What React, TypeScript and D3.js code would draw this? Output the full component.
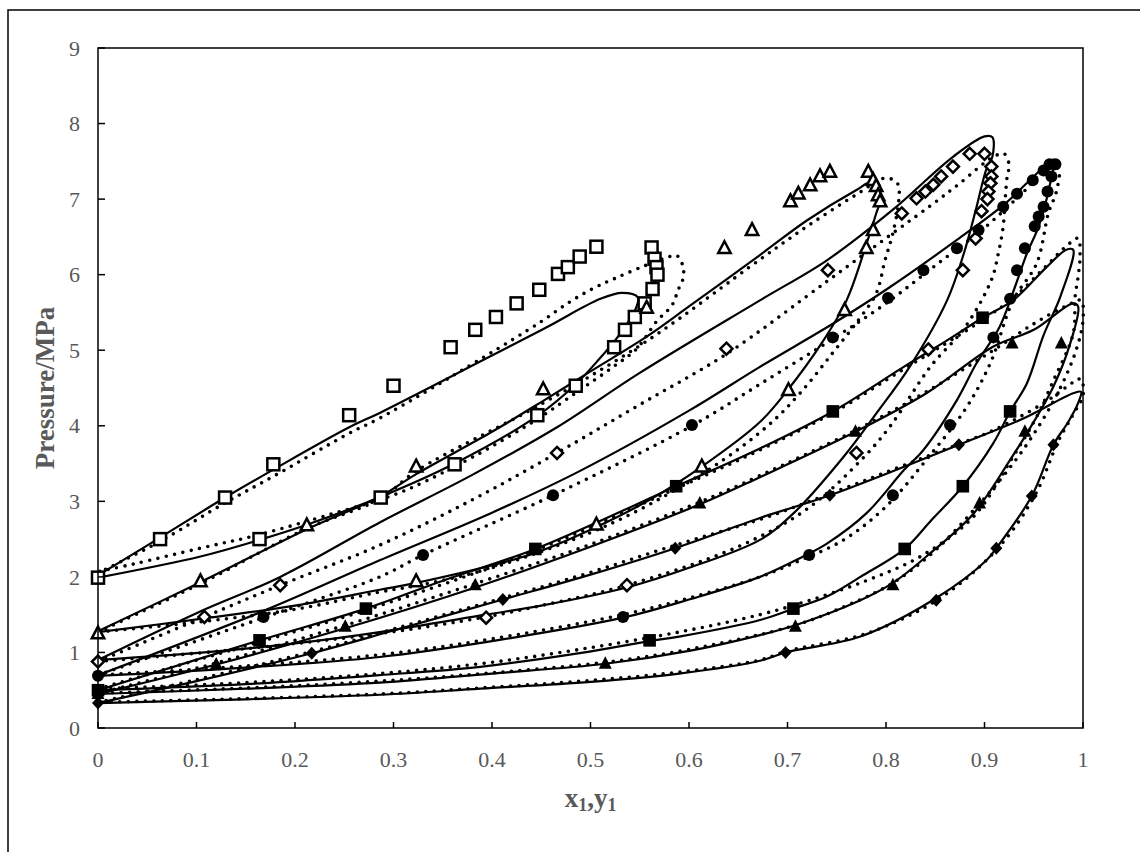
import React from 'react';
import * as d3 from 'd3';

const xTicks = [0, 0.1, 0.2, 0.3, 0.4, 0.5, 0.6, 0.7, 0.8, 0.9, 1];
const xTickLabels = ['0', '0.1', '0.2', '0.3', '0.4', '0.5', '0.6', '0.7', '0.8', '0.9', '1'];
const yTicks = [0, 1, 2, 3, 4, 5, 6, 7, 8, 9];

// Experimental points (x1 or y1, P/MPa)
const expOpenSquare = [[0,1.99],[0.063,2.50],[0.129,3.05],[0.178,3.49],[0.255,4.14],[0.300,4.53],[0.358,5.04],[0.383,5.27],[0.404,5.44],[0.425,5.62],[0.448,5.80],[0.467,6.01],[0.477,6.10],[0.489,6.24],[0.506,6.37],
  [0.562,6.36],[0.565,6.21],[0.567,6.10],[0.568,6.0],[0.563,5.81],[0.555,5.62],[0.545,5.44],[0.535,5.27],[0.524,5.04],[0.485,4.53],[0.446,4.14],[0.362,3.49],[0.287,3.05],[0.164,2.50]];
const expOpenTriangle = [[0,1.25],[0.104,1.94],[0.212,2.68],[0.323,3.46],[0.452,4.48],[0.557,5.56],[0.636,6.35],[0.664,6.59],[0.703,6.97],[0.711,7.07],[0.723,7.18],[0.733,7.30],[0.743,7.36],
  [0.782,7.36],[0.787,7.25],[0.79,7.17],[0.792,7.05],[0.794,6.97],[0.787,6.59],[0.78,6.35],[0.758,5.53],[0.701,4.47],[0.613,3.46],[0.506,2.69],[0.323,1.94]];
const expOpenDiamond = [[0,0.88],[0.108,1.47],[0.185,1.89],[0.466,3.64],[0.638,5.02],[0.741,6.06],[0.816,6.81],[0.831,7.01],[0.84,7.10],[0.848,7.19],[0.856,7.30],[0.868,7.43],[0.885,7.60],[0.90,7.60],
  [0.907,7.43],[0.907,7.30],[0.906,7.21],[0.904,7.10],[0.903,7.0],[0.897,6.84],[0.891,6.48],[0.878,6.06],[0.843,5.01],[0.77,3.64],[0.537,1.89],[0.394,1.46]];
const expCircle = [[0,0.69],[0.168,1.47],[0.33,2.29],[0.462,3.08],[0.603,4.01],[0.746,5.17],[0.802,5.69],[0.838,6.06],[0.872,6.35],[0.894,6.59],[0.919,6.90],[0.933,7.07],[0.949,7.25],[0.96,7.38],[0.966,7.46],
  [0.972,7.46],[0.968,7.30],[0.964,7.10],[0.96,6.90],[0.955,6.77],[0.951,6.64],[0.941,6.35],[0.933,6.06],[0.926,5.68],[0.909,5.17],[0.865,4.01],[0.807,3.08],[0.722,2.29],[0.533,1.47]];
const expSquare = [[0,0.50],[0.164,1.16],[0.272,1.58],[0.444,2.37],[0.587,3.20],[0.746,4.19],[0.898,5.43],
  [0.926,4.19],[0.878,3.20],[0.819,2.37],[0.706,1.58],[0.56,1.16]];
const expTriangle = [[0,0.45],[0.12,0.84],[0.251,1.34],[0.383,1.89],[0.611,2.97],[0.769,3.92],[0.928,5.09],
  [0.978,5.09],[0.941,3.92],[0.895,2.97],[0.807,1.89],[0.708,1.34],[0.515,0.85]];
const expDiamond = [[0,0.33],[0.217,0.99],[0.411,1.70],[0.586,2.38],[0.743,3.08],[0.874,3.75],
  [0.97,3.75],[0.948,3.07],[0.912,2.38],[0.851,1.69],[0.698,1.0]];

// Model A (solid lines): bubble branch then dew branch
const solid1 = [[0,2.02],[0.063,2.52],[0.129,3.05],[0.178,3.42],[0.255,3.98],[0.286,4.17],[0.388,4.85],[0.455,5.30],[0.51,5.68],[0.532,5.76],[0.548,5.70],[0.545,5.52],[0.537,5.35],[0.525,5.13],[0.51,4.90],[0.485,4.55],[0.446,4.13],[0.362,3.50],[0.289,3.07],[0.212,2.69],[0.164,2.49],[0.104,2.27],[0,1.99]];
const solid2 = [[0,1.28],[0.104,1.93],[0.212,2.63],[0.286,3.06],[0.323,3.36],[0.40,3.92],[0.452,4.33],[0.50,4.72],[0.557,5.18],[0.60,5.58],[0.672,6.26],[0.72,6.72],[0.77,7.12],[0.785,7.22],[0.795,7.05],[0.79,6.81],[0.78,6.40],[0.76,5.66],[0.735,5.10],[0.70,4.47],[0.672,4.05],[0.613,3.46],[0.56,3.02],[0.506,2.66],[0.44,2.30],[0.323,1.92],[0.286,1.83],[0.2,1.62],[0.108,1.45],[0,1.27]];
const solid3 = [[0,0.90],[0.1,1.52],[0.185,2.0],[0.286,2.72],[0.38,3.35],[0.466,3.98],[0.55,4.70],[0.672,5.66],[0.74,6.19],[0.807,6.86],[0.868,7.56],[0.90,7.83],[0.908,7.82],[0.908,7.56],[0.902,7.40],[0.892,6.90],[0.879,6.28],[0.862,5.66],[0.824,4.78],[0.79,4.16],[0.757,3.59],[0.706,2.84],[0.672,2.49],[0.6,2.12],[0.537,1.86],[0.45,1.62],[0.394,1.50],[0.286,1.27],[0.2,1.12],[0.108,1.0],[0,0.90]];
const solid4 = [[0,0.70],[0.168,1.55],[0.286,2.22],[0.40,2.85],[0.489,3.40],[0.60,4.20],[0.672,4.78],[0.746,5.35],[0.80,5.80],[0.872,6.46],[0.921,6.94],[0.95,7.30],[0.97,7.52],[0.966,7.17],[0.955,6.64],[0.943,6.28],[0.931,5.84],[0.915,5.30],[0.892,4.83],[0.872,4.34],[0.838,3.68],[0.818,3.41],[0.78,2.84],[0.74,2.44],[0.716,2.27],[0.672,2.0],[0.6,1.70],[0.533,1.46],[0.4,1.15],[0.286,0.94],[0.15,0.80],[0,0.69]];
const solid5 = [[0,0.50],[0.164,1.16],[0.272,1.58],[0.35,1.95],[0.444,2.37],[0.587,3.20],[0.672,3.70],[0.746,4.19],[0.818,4.78],[0.862,5.13],[0.898,5.43],[0.929,5.66],[0.963,6.10],[0.983,6.33],[0.99,6.33],[0.977,5.71],[0.960,5.20],[0.943,4.56],[0.926,4.19],[0.909,3.77],[0.878,3.20],[0.846,2.75],[0.819,2.37],[0.774,2.0],[0.74,1.74],[0.706,1.58],[0.672,1.43],[0.59,1.21],[0.56,1.15],[0.489,0.99],[0.388,0.81],[0.286,0.70],[0.15,0.58],[0,0.50]];
const solid6 = [[0,0.45],[0.12,0.84],[0.251,1.32],[0.383,1.86],[0.5,2.40],[0.611,2.96],[0.672,3.32],[0.769,3.92],[0.841,4.43],[0.909,5.05],[0.95,5.27],[0.99,5.62],[0.995,5.58],[0.987,5.09],[0.97,4.52],[0.943,3.90],[0.926,3.55],[0.889,2.84],[0.841,2.27],[0.807,1.92],[0.774,1.69],[0.708,1.36],[0.672,1.23],[0.6,1.02],[0.515,0.85],[0.4,0.72],[0.286,0.60],[0.15,0.52],[0,0.45]];
const solid7 = [[0,0.33],[0.1,0.62],[0.217,0.99],[0.3,1.29],[0.411,1.70],[0.5,2.03],[0.586,2.38],[0.672,2.78],[0.743,3.08],[0.874,3.75],[0.94,4.10],[0.99,4.43],[0.998,4.45],[0.995,4.30],[0.985,4.05],[0.97,3.75],[0.948,3.07],[0.912,2.38],[0.902,2.22],[0.851,1.72],[0.774,1.21],[0.698,1.0],[0.672,0.89],[0.59,0.72],[0.5,0.61],[0.388,0.52],[0.286,0.44],[0.15,0.38],[0,0.33]];

// Model B (dotted lines)
const dotted1 = [[0,2.05],[0.063,2.47],[0.129,2.98],[0.178,3.33],[0.255,3.90],[0.286,4.10],[0.388,4.88],[0.45,5.38],[0.479,5.64],[0.503,5.82],[0.523,5.94],[0.548,6.08],[0.576,6.22],[0.588,6.25],[0.594,6.10],[0.594,5.95],[0.589,5.80],[0.583,5.60],[0.567,5.38],[0.547,5.02],[0.523,4.78],[0.489,4.47],[0.445,4.08],[0.388,3.64],[0.32,3.19],[0.286,3.02],[0.239,2.84],[0.164,2.56],[0.104,2.38],[0.036,2.17],[0,2.07]];
const dotted2 = [[0,1.27],[0.104,1.91],[0.212,2.64],[0.286,3.03],[0.323,3.40],[0.452,4.30],[0.557,5.12],[0.672,6.20],[0.72,6.64],[0.77,7.06],[0.80,7.28],[0.812,7.20],[0.813,6.99],[0.807,6.55],[0.799,6.19],[0.79,5.75],[0.772,5.40],[0.745,4.95],[0.712,4.42],[0.68,4.0],[0.62,3.42],[0.52,2.70],[0.40,2.12],[0.33,1.90],[0.286,1.80],[0.2,1.57],[0.1,1.40],[0,1.27]];
const dotted3 = [[0,0.88],[0.108,1.47],[0.185,1.89],[0.286,2.42],[0.38,3.02],[0.466,3.64],[0.55,4.28],[0.638,4.95],[0.741,5.92],[0.807,6.55],[0.848,6.94],[0.875,7.21],[0.909,7.56],[0.92,7.60],[0.925,7.45],[0.923,7.30],[0.921,7.0],[0.919,6.64],[0.914,6.28],[0.907,5.93],[0.88,5.30],[0.845,4.78],[0.804,3.99],[0.775,3.55],[0.72,2.90],[0.65,2.40],[0.537,1.89],[0.45,1.62],[0.394,1.47],[0.286,1.25],[0.15,1.05],[0,0.88]];
const dotted4 = [[0,0.70],[0.168,1.46],[0.286,2.0],[0.33,2.29],[0.462,3.08],[0.603,4.0],[0.672,4.55],[0.746,5.15],[0.80,5.62],[0.85,6.12],[0.90,6.62],[0.94,7.10],[0.965,7.42],[0.975,7.40],[0.973,7.10],[0.965,6.82],[0.953,6.15],[0.929,5.66],[0.906,4.83],[0.88,4.21],[0.841,3.55],[0.80,2.93],[0.757,2.49],[0.706,2.18],[0.672,2.0],[0.6,1.72],[0.533,1.50],[0.4,1.18],[0.286,0.97],[0.15,0.82],[0,0.70]];
const dotted5 = [[0,0.52],[0.164,1.14],[0.272,1.56],[0.444,2.35],[0.587,3.17],[0.672,3.68],[0.746,4.17],[0.818,4.75],[0.862,5.10],[0.898,5.40],[0.93,5.70],[0.963,6.12],[0.985,6.40],[0.995,6.48],[0.997,6.24],[0.995,5.97],[0.992,5.71],[0.99,5.22],[0.97,4.60],[0.953,4.12],[0.929,3.59],[0.889,2.80],[0.835,2.27],[0.78,1.95],[0.72,1.68],[0.672,1.50],[0.59,1.27],[0.489,1.04],[0.388,0.85],[0.286,0.72],[0.15,0.60],[0,0.52]];
const dotted6 = [[0,0.46],[0.12,0.86],[0.251,1.36],[0.383,1.91],[0.5,2.43],[0.611,2.99],[0.672,3.34],[0.769,3.94],[0.841,4.45],[0.909,5.0],[0.95,5.35],[0.985,5.60],[0.998,5.66],[1.0,5.40],[0.993,5.0],[0.975,4.45],[0.948,3.85],[0.92,3.35],[0.895,2.97],[0.85,2.35],[0.807,1.92],[0.76,1.62],[0.708,1.36],[0.6,1.04],[0.515,0.87],[0.4,0.73],[0.286,0.62],[0.15,0.53],[0,0.46]];
const dotted7 = [[0,0.34],[0.1,0.64],[0.217,1.01],[0.3,1.31],[0.411,1.72],[0.5,2.06],[0.586,2.42],[0.672,2.76],[0.743,3.10],[0.874,3.76],[0.909,3.94],[0.96,4.30],[0.993,4.60],[0.998,4.62],[1.0,4.40],[0.99,4.15],[0.975,3.80],[0.952,3.10],[0.915,2.40],[0.855,1.72],[0.78,1.25],[0.70,1.02],[0.672,0.90],[0.59,0.74],[0.5,0.63],[0.388,0.53],[0.286,0.45],[0.15,0.39],[0,0.34]];

const solidLines = [solid1, solid2, solid3, solid4, solid5, solid6, solid7];
const dottedLines = [dotted1, dotted2, dotted3, dotted4, dotted5, dotted6, dotted7];

const W = 1140, H = 852;
const M = { left: 98, right: 1083, top: 48, bottom: 728 };

function Marker({ kind, cx, cy }: { kind: string; cx: number; cy: number }) {
  const sw = 2.5;
  switch (kind) {
    case 'openSquare':
      return <rect x={cx - 6} y={cy - 6} width={12} height={12} fill="#fff" stroke="#000" strokeWidth={sw} />;
    case 'openTriangle':
      return <path d={`M${cx},${cy - 7}L${cx + 6.2},${cy + 4.8}L${cx - 6.2},${cy + 4.8}Z`} fill="#fff" stroke="#000" strokeWidth={sw} strokeLinejoin="miter" />;
    case 'openDiamond':
      return <path d={`M${cx},${cy - 6}L${cx + 6},${cy}L${cx},${cy + 6}L${cx - 6},${cy}Z`} fill="#fff" stroke="#000" strokeWidth={sw} />;
    case 'circle':
      return <circle cx={cx} cy={cy} r={6} fill="#000" />;
    case 'square':
      return <rect x={cx - 6.3} y={cy - 6.3} width={12.6} height={12.6} fill="#000" />;
    case 'triangle':
      return <path d={`M${cx},${cy - 7.5}L${cx + 6.5},${cy + 5}L${cx - 6.5},${cy + 5}Z`} fill="#000" />;
    case 'diamond':
      return <path d={`M${cx},${cy - 6.5}L${cx + 6},${cy}L${cx},${cy + 6.5}L${cx - 6},${cy}Z`} fill="#000" />;
    default:
      return null;
  }
}

export default function App() {
  const x = d3.scaleLinear().domain([0, 1]).range([M.left, M.right]);
  const y = d3.scaleLinear().domain([0, 9]).range([M.bottom, M.top]);
  const line = d3
    .line<number[]>()
    .x((d) => x(d[0]))
    .y((d) => y(d[1]))
    .curve(d3.curveCatmullRom.alpha(0.5));

  const series: [string, number[][]][] = [
    ['openSquare', expOpenSquare],
    ['openTriangle', expOpenTriangle],
    ['openDiamond', expOpenDiamond],
    ['circle', expCircle],
    ['square', expSquare],
    ['triangle', expTriangle],
    ['diamond', expDiamond],
  ];

  const tickColor = '#595959';
  const font = "'Liberation Serif', 'Times New Roman', serif";

  return (
    <svg width={W} height={H} style={{ position: 'absolute', left: 0, top: 0, display: 'block', background: '#fff' }}>
      <rect x={0} y={0} width={W} height={H} fill="#fff" />
      <rect x={8} y={10} width={1250} height={950} fill="none" stroke="#000" strokeWidth={1.5} />
      <g>
        {solidLines.map((s, i) => (
          <path key={'s' + i} d={line(s) || ''} fill="none" stroke="#000" strokeWidth={2.2} strokeLinejoin="round" />
        ))}
        {dottedLines.map((s, i) => (
          <path key={'d' + i} d={line(s) || ''} fill="none" stroke="#000" strokeWidth={3.6} strokeLinecap="round" strokeDasharray="0 8.5" />
        ))}
      </g>
      <g>
        {series.map(([kind, pts]) =>
          pts.map((p, j) => <Marker key={kind + j} kind={kind} cx={x(p[0])} cy={y(p[1])} />)
        )}
      </g>
      <rect x={M.left} y={M.top} width={M.right - M.left} height={M.bottom - M.top} fill="none" stroke="#000" strokeWidth={1.5} />
      {yTicks.map((t) => (
        <g key={'y' + t}>
          <line x1={M.left} x2={M.left + 7} y1={y(t)} y2={y(t)} stroke="#000" strokeWidth={1.5} />
          <text x={80} y={y(t)} dy="0.35em" textAnchor="end" fontFamily={font} fontSize={22} fill={tickColor}>
            {t}
          </text>
        </g>
      ))}
      {xTicks.map((t, i) => (
        <g key={'x' + t}>
          <line x1={x(t)} x2={x(t)} y1={M.bottom} y2={M.bottom - 6} stroke="#000" strokeWidth={1.5} />
          <text x={x(t)} y={767} textAnchor="middle" fontFamily={font} fontSize={22} fill={tickColor}>
            {xTickLabels[i]}
          </text>
        </g>
      ))}
      <text transform={`translate(54, ${(M.top + M.bottom) / 2}) rotate(-90)`} textAnchor="middle" fontFamily={font} fontSize={27} fontWeight="bold" fill={tickColor}>
        Pressure/MPa
      </text>
      <text x={(M.left + M.right) / 2} y={807} textAnchor="middle" fontFamily={font} fontSize={27} fontWeight="bold" fill={tickColor}>
        x<tspan fontSize={18} dy={4}>1</tspan>
        <tspan dy={-4}>,y</tspan>
        <tspan fontSize={18} dy={4}>1</tspan>
      </text>
    </svg>
  );
}
